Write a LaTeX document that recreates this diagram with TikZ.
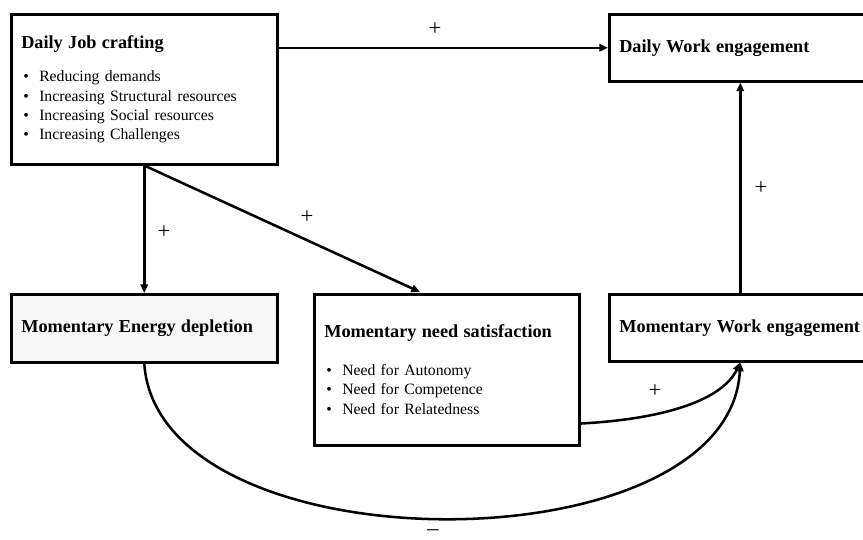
\documentclass[tikz,border=0pt]{standalone}
\usepackage{fontspec}
\setmainfont{Liberation Serif}
\usetikzlibrary{arrows.meta,calc}
\newcommand\bitem[1]{\makebox[13.5pt][l]{\hspace{1.5pt}\textbullet}#1}
\newcommand\btitle[1]{{\fontsize{13.7}{15}\selectfont\bfseries #1}}
\begin{document}
\begin{tikzpicture}[x=0.75pt,y=-0.75pt,
  box/.style={draw,line width=1.9pt,anchor=north west,inner xsep=7.5pt,inner ysep=0pt,
    align=left,font=\fontsize{11.8}{14.6}\selectfont},
  arr/.style={line width=1.9pt,-{Triangle[length=6.5pt,width=5.5pt]}},
  sign/.style={font=\fontsize{17}{18}\selectfont,inner sep=0pt}]
\clip (0,0) rectangle (863,539);
\node[box,minimum width=199.5pt,minimum height=112.5pt,text width=184.5pt] (jc) at (10,13)
  {\btitle{Daily Job crafting}\\[10.5pt]
   \bitem{Reducing demands}\\
   \bitem{Increasing Structural resources}\\
   \bitem{Increasing Social resources}\\
   \bitem{Increasing Challenges}};
\node[box,minimum width=196.5pt,minimum height=50.25pt,text width=181.5pt] (dwe) at (608,13)
  {\btitle{Daily Work engagement}};
\node[box,fill=black!3,minimum width=199.5pt,minimum height=51pt,text width=184.5pt] (med) at (10,293)
  {\btitle{Momentary Energy depletion}};
\node[box,minimum width=198.75pt,minimum height=113.25pt,text width=183.75pt] (mns) at (313,293)
  {\btitle{Momentary need satisfaction}\\[13.5pt]
   \bitem{Need for Autonomy}\\
   \bitem{Need for Competence}\\
   \bitem{Need for Relatedness}};
\node[box,minimum width=196.5pt,minimum height=50.25pt,text width=181.5pt] (mwe) at (608,293)
  {\btitle{Momentary Work engagement}};
\coordinate (d1) at (420,292);
\coordinate (c1) at ($(mns.south east)+(0,-23)$);
\draw[arr] (jc.east |- dwe.west) -- (dwe.west);
\draw[arr] (jc.south) -- (med.north);
\draw[arr] (jc.south) -- (d1);
\draw[arr] (mwe.north) -- (mwe.north |- dwe.south);
\draw[arr] (c1) .. controls (665,419) and (722,400) .. (mwe.south);
\draw[arr] (med.south) .. controls (158,570) and (730,570) .. (mwe.south);
\node[sign] (p1) at (435,29) {+};
\node[sign] (p2) at (164,232) {+};
\node[sign] (p3) at (307,217) {+};
\node[sign] (p4) at (761,188) {+};
\node[sign] (p5) at (655,391) {+};
\node[sign] (m1) at (433,533) {--};
\end{tikzpicture}
\end{document}
